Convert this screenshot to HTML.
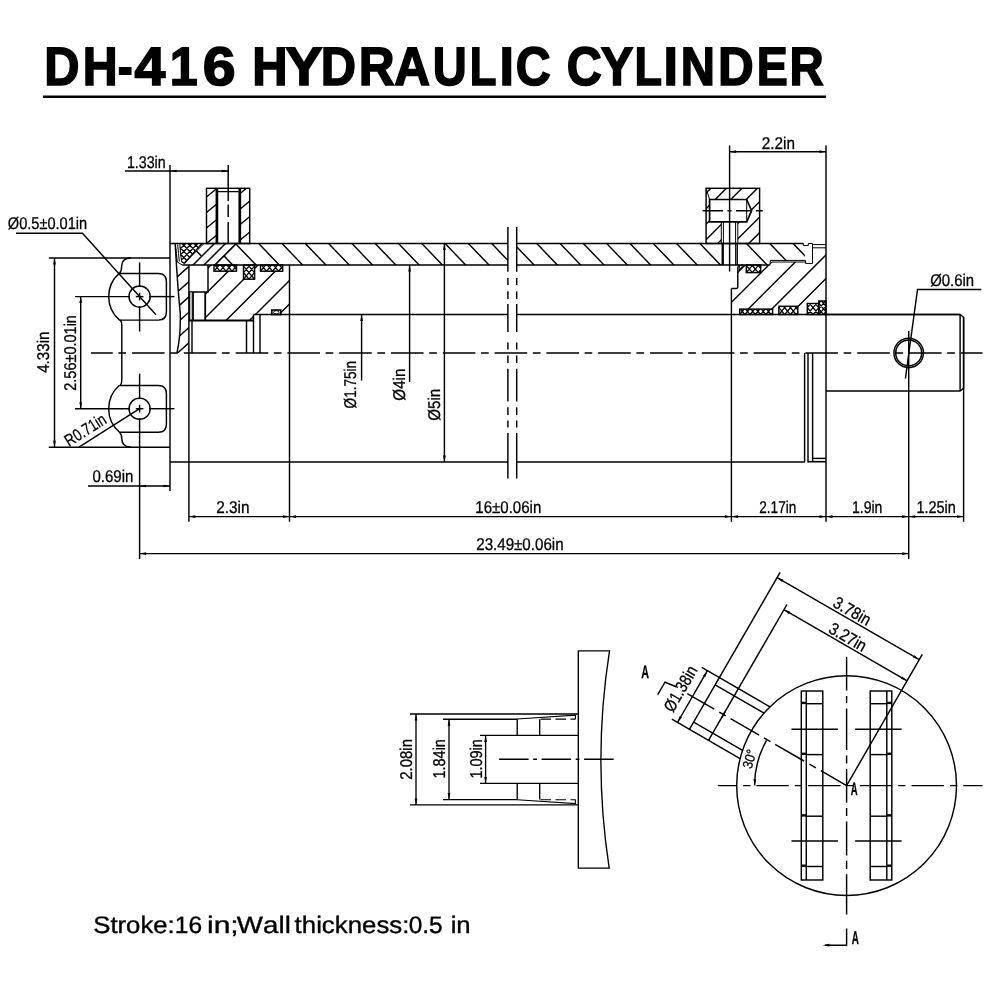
<!DOCTYPE html>
<html lang="en">
<head>
<meta charset="utf-8">
<title>DH-416 HYDRAULIC CYLINDER</title>
<style>
html,body{margin:0;padding:0;background:#fff;}
body{width:1000px;height:1000px;overflow:hidden;font-family:"Liberation Sans", sans-serif;}
svg{display:block;position:absolute;left:0;top:0;will-change:transform;filter:grayscale(1);}
svg text{font-family:"Liberation Sans", sans-serif;fill:#000;stroke:#000;stroke-width:0.3px;stroke-linejoin:round;text-rendering:geometricPrecision;font-kerning:none;}
</style>
</head>
<body>
<svg width="1000" height="1000" viewBox="0 0 1000 1000" stroke="#000" fill="none" stroke-linecap="butt">
<rect x="0" y="0" width="1000" height="1000" fill="#fff" stroke="none"/>
<defs>
<clipPath id="c1"><path d="M236.5,243.5 L507.9,243.5 L507.9,265 L215,265 Z"/></clipPath>
<clipPath id="c2"><path d="M516.7,243.5 L722.3,243.5 L722.3,265 L516.7,265 Z M737.2,243.5 L803.4,243.5 L805.5,260.4 L770.5,260.4 L769.8,265 L746.5,265 Z"/></clipPath>
<clipPath id="c3"><path d="M183.5,265 L203.5,243.5 L236.5,243.5 L215,265 Z"/></clipPath>
<clipPath id="c4"><path d="M179.6,243.5 L202.5,243.5 L183.8,263.6 L182,262 Q180,254 179.6,243.5 Z"/></clipPath>
<clipPath id="c5"><path d="M176.2,265 Q177.8,290 180.2,312 Q181,334 177,352.9 L188.9,352.9 L188.9,265 Z"/></clipPath>
<clipPath id="c6"><path d="M208,265 L214,265 L214,271.2 L236.5,271.2 L236.5,265 L243.5,265 L243.5,279.2 L254.6,279.2 L254.6,265 L260.5,265 L260.5,271.2 L282.7,271.2 L282.7,265 L289.5,265 L289.5,314.5 L280.8,314.5 L280.8,310 L271.8,310 L271.8,314.5 L253.5,314.5 L253.5,320.6 L206,320.6 L206,292 L208,292 Z"/></clipPath>
<clipPath id="c7"><path d="M214,265H236.5V271.2H214Z"/></clipPath>
<clipPath id="c8"><path d="M243.5,265H254.6V279.2H243.5Z"/></clipPath>
<clipPath id="c9"><path d="M260.5,265H282.7V271.2H260.5Z"/></clipPath>
<clipPath id="c10"><path d="M206.5,188.3H216V243.5H206.5Z"/></clipPath>
<clipPath id="c11"><path d="M240.4,188.3H249.7V243.5H240.4Z"/></clipPath>
<clipPath id="c12"><path d="M706.1,188.3 H759.6 V243.5 H737.8 V221.9 H746.7 L751.6,210.7 L746.7,199.5 H709.6 V221.9 H721.3 V243.5 H706.1 Z"/></clipPath>
<clipPath id="c13"><path d="M731.4,288.4 H737.8 V265 H746.3 V272.6 H760.7 V265 H769.8 L770.5,262 H805.5 V263.4 H812.5 V247.8 H826 V301 H818.8 V303.5 H807.3 V314.5 H797.8 V306.3 H778.9 V314.5 H772.6 V309.1 H739.7 V314.5 H731.4 Z"/></clipPath>
<clipPath id="c14"><path d="M746.3,265H760.7V272.6H746.3Z"/></clipPath>
<clipPath id="c15"><path d="M739.7,309.1H772.6V314.5H739.7Z"/></clipPath>
<clipPath id="c16"><path d="M778.9,306.3H797.8V314.5H778.9Z"/></clipPath>
<clipPath id="c17"><path d="M807.3,303.5H818.8V314.5H807.3Z"/></clipPath>
<clipPath id="c18"><path d="M818.8,301H826V314.5H818.8Z"/></clipPath>
</defs>
<text y="85.1" font-size="54.2" font-weight="bold" style="stroke:#000;stroke-width:1.6px;stroke-linejoin:miter"><tspan x="44.33" textLength="35.27" lengthAdjust="spacingAndGlyphs">D</tspan><tspan x="82.67" textLength="34.89" lengthAdjust="spacingAndGlyphs">H</tspan><tspan x="117.70" textLength="14.95" lengthAdjust="spacingAndGlyphs">-</tspan><tspan x="134.46" textLength="30.84" lengthAdjust="spacingAndGlyphs">4</tspan><tspan x="169.63" textLength="27.97" lengthAdjust="spacingAndGlyphs">1</tspan><tspan x="202.83" textLength="32.90" lengthAdjust="spacingAndGlyphs">6</tspan> <tspan x="252.18" textLength="35.32" lengthAdjust="spacingAndGlyphs">H</tspan><tspan x="285.34" textLength="37.36" lengthAdjust="spacingAndGlyphs">Y</tspan><tspan x="320.73" textLength="35.27" lengthAdjust="spacingAndGlyphs">D</tspan><tspan x="358.73" textLength="35.89" lengthAdjust="spacingAndGlyphs">R</tspan><tspan x="394.37" textLength="35.79" lengthAdjust="spacingAndGlyphs">A</tspan><tspan x="432.82" textLength="34.00" lengthAdjust="spacingAndGlyphs">U</tspan><tspan x="469.77" textLength="26.72" lengthAdjust="spacingAndGlyphs">L</tspan><tspan x="499.52" textLength="14.47" lengthAdjust="spacingAndGlyphs">I</tspan><tspan x="515.72" textLength="34.85" lengthAdjust="spacingAndGlyphs">C</tspan> <tspan x="566.81" textLength="35.01" lengthAdjust="spacingAndGlyphs">C</tspan><tspan x="600.82" textLength="32.52" lengthAdjust="spacingAndGlyphs">Y</tspan><tspan x="634.39" textLength="27.50" lengthAdjust="spacingAndGlyphs">L</tspan><tspan x="663.57" textLength="14.47" lengthAdjust="spacingAndGlyphs">I</tspan><tspan x="680.78" textLength="34.21" lengthAdjust="spacingAndGlyphs">N</tspan><tspan x="717.99" textLength="35.74" lengthAdjust="spacingAndGlyphs">D</tspan><tspan x="756.64" textLength="31.03" lengthAdjust="spacingAndGlyphs">E</tspan><tspan x="789.48" textLength="34.24" lengthAdjust="spacingAndGlyphs">R</tspan></text>
<line x1="43" y1="96.75" x2="826" y2="96.75" stroke-width="2.4"/>
<text y="933" font-size="23.8" style="stroke-width:0.35px"><tspan x="93.23" textLength="81.52" lengthAdjust="spacingAndGlyphs">Stroke:</tspan><tspan x="174.73" textLength="27.35" lengthAdjust="spacingAndGlyphs">16</tspan> <tspan x="206.99" textLength="31.71" lengthAdjust="spacingAndGlyphs">in;</tspan><tspan x="236.88" textLength="53.98" lengthAdjust="spacingAndGlyphs">Wall</tspan> <tspan x="294.61" textLength="114.75" lengthAdjust="spacingAndGlyphs">thickness:</tspan><tspan x="408.65" textLength="33.98" lengthAdjust="spacingAndGlyphs">0.5</tspan> <tspan x="450.68" textLength="19.99" lengthAdjust="spacingAndGlyphs">in</tspan></text>
<path d="M91,352.9L112.8,352.9M118.4,352.9L126.1,352.9M132,352.9L164.6,352.9M170.2,352.9L177.9,352.9M183.8,352.9L216.4,352.9M222,352.9L229.7,352.9M235.6,352.9L268.2,352.9M273.8,352.9L281.5,352.9M287.4,352.9L320,352.9M325.6,352.9L333.3,352.9M339.2,352.9L371.8,352.9M377.4,352.9L385.1,352.9M391,352.9L423.6,352.9M429.2,352.9L436.9,352.9M442.8,352.9L475.4,352.9M481,352.9L488.7,352.9M494.6,352.9L527.2,352.9M532.8,352.9L540.5,352.9M546.4,352.9L579,352.9M584.6,352.9L592.3,352.9M598.2,352.9L630.8,352.9M636.4,352.9L644.1,352.9M650,352.9L682.6,352.9M688.2,352.9L695.9,352.9M701.8,352.9L734.4,352.9M740,352.9L747.7,352.9M753.6,352.9L786.2,352.9M791.8,352.9L799.5,352.9M805.4,352.9L838,352.9M843.6,352.9L851.3,352.9M857.2,352.9L889.8,352.9M895.4,352.9L903.1,352.9M909,352.9L941.6,352.9M947.2,352.9L954.9,352.9M960.8,352.9L982.5,352.9" stroke-width="1.45" fill="none"/>
<line x1="170" y1="165" x2="170" y2="491" stroke-width="1.45"/>
<line x1="188.9" y1="265" x2="188.9" y2="521.8" stroke-width="1.45"/>
<line x1="289.5" y1="265" x2="289.5" y2="521.8" stroke-width="1.45"/>
<line x1="729.6" y1="145.5" x2="729.6" y2="271.6" stroke-width="1.45"/>
<line x1="731.4" y1="288.4" x2="731.4" y2="521.8" stroke-width="1.45"/>
<line x1="826" y1="145.5" x2="826" y2="521.8" stroke-width="1.45"/>
<line x1="908.7" y1="331" x2="908.7" y2="559" stroke-width="1.45"/>
<line x1="963.6" y1="317" x2="963.6" y2="521.8" stroke-width="1.45"/>
<line x1="139.6" y1="373.6" x2="139.6" y2="399.1" stroke-width="1.45"/>
<line x1="139.6" y1="418.3" x2="139.6" y2="559" stroke-width="1.45"/>
<line x1="170" y1="243.5" x2="507.9" y2="243.5" stroke-width="1.45"/>
<line x1="182.6" y1="265" x2="507.9" y2="265" stroke-width="1.45"/>
<line x1="516.7" y1="243.5" x2="803.4" y2="243.5" stroke-width="1.45"/>
<line x1="516.7" y1="265" x2="769.8" y2="265" stroke-width="1.45"/>
<line x1="253.5" y1="314.5" x2="507.9" y2="314.5" stroke-width="1.45"/>
<line x1="516.7" y1="314.5" x2="960.1" y2="314.5" stroke-width="1.45"/>
<line x1="170" y1="462" x2="507.9" y2="462" stroke-width="1.45"/>
<line x1="516.7" y1="462" x2="805" y2="462" stroke-width="1.45"/>
<path d="M507.9,226.9V271.7M507.9,278V285M507.9,291.3V299M507.9,303.9V331.9M507.9,342.4V349.6M507.9,355.4V363.1M507.9,368.7V401.6M507.9,407.2V414.9M507.9,420.5V427.5M507.9,433.1V478.6" stroke-width="1.45" fill="none"/>
<path d="M516.7,226.9V271.7M516.7,278V285M516.7,291.3V299M516.7,303.9V331.9M516.7,342.4V349.6M516.7,355.4V363.1M516.7,368.7V401.6M516.7,407.2V414.9M516.7,420.5V427.5M516.7,433.1V478.6" stroke-width="1.45" fill="none"/>
<path d="M373.1,71.23L544.16,249.61M360.96,82.87L532.02,261.25M348.82,94.51L519.88,272.89M336.69,106.15L507.74,284.53M324.55,117.79L495.6,296.17M312.41,129.43L483.47,307.81M300.27,141.07L471.33,319.45M288.14,152.71L459.19,331.08M276,164.35L447.05,342.72M263.86,175.99L434.92,354.36M251.72,187.63L422.78,366M239.58,199.27L410.64,377.64M227.45,210.91L398.5,389.28M215.31,222.55L386.36,400.92M203.17,234.19L374.23,412.56M191.03,245.83L362.09,424.2M178.89,257.47L349.95,435.84" stroke-width="1.45" fill="none" clip-path="url(#c1)"/>
<path d="M678.62,75.53L842.49,246.41M666.48,87.17L830.35,258.05M654.34,98.81L818.21,269.69M642.21,110.45L806.08,281.33M630.07,122.09L793.94,292.97M617.93,133.73L781.8,304.61M605.79,145.37L769.66,316.25M593.66,157.01L757.52,327.89M581.52,168.65L745.39,339.53M569.38,180.29L733.25,351.17M557.24,191.93L721.11,362.81M545.1,203.57L708.97,374.45M532.97,215.21L696.84,386.09M520.83,226.84L684.7,397.73M508.69,238.48L672.56,409.37M496.55,250.12L660.42,421.01M484.41,261.76L648.28,432.65" stroke-width="1.45" fill="none" clip-path="url(#c2)"/>
<path d="M215,265 L236.5,243.5" stroke-width="1.45" fill="none"/>
<path d="M161.59,252.41L208.41,205.59M167.09,257.91L213.91,211.09M172.59,263.41L219.41,216.59M178.09,268.91L224.91,222.09M183.59,274.41L230.41,227.59M189.09,279.91L235.91,233.09M194.59,285.41L241.41,238.59M200.09,290.91L246.91,244.09M205.59,296.41L252.41,249.59M211.09,301.91L257.91,255.09" stroke-width="1.45" fill="none" clip-path="url(#c3)"/>
<path d="M157.54,253.37L189.37,221.54M160.58,256.41L192.41,224.58M163.62,259.45L195.45,227.62M166.66,262.49L198.49,230.66M169.7,265.53L201.53,233.7M172.75,268.57L204.57,236.75M175.79,271.61L207.61,239.79M178.83,274.65L210.65,242.83M181.87,277.7L213.7,245.87M184.91,280.74L216.74,248.91M187.95,283.78L219.78,251.95M190.99,286.82L222.82,254.99M190.51,221.66L222.34,253.49M187.47,224.7L219.3,256.53M184.43,227.74L216.26,259.57M181.39,230.78L213.22,262.61M178.35,233.82L210.18,265.65M175.31,236.86L207.14,268.69M172.27,239.9L204.1,271.73M169.23,242.95L201.05,274.77M166.19,245.99L198.01,277.81M163.15,249.03L194.97,280.85M160.1,252.07L191.93,283.9M157.06,255.11L188.89,286.94" stroke-width="1.3" fill="none" clip-path="url(#c4)"/>
<path d="M202.2,243.5 L184.2,263.4" stroke-width="1.5" fill="none"/>
<path d="M184.2,263.4 L181.8,262.2 Q180.2,254 179.8,243.5" stroke-width="1" fill="none"/>
<path d="M195.4,250 L201.4,256" stroke-width="1.45" fill="none"/>
<path d="M175.2,243.5 Q176.6,254 177.3,262 L180.5,264 L182.8,265" stroke-width="1" fill="none"/>
<path d="M177.6,244.5 Q178.6,254 179.3,261.5" stroke-width="1" fill="none"/>
<path d="M175.2,243.5 Q177.8,290 180.2,312 Q181,334 177,352.9" stroke-width="1.45" fill="none"/>
<path d="M119.36,298.31L177.92,245.59M126.97,306.76L185.52,254.04M134.58,315.21L193.13,262.49M142.19,323.66L200.74,270.94M149.8,332.11L208.35,279.39M157.4,340.56L215.96,287.84M165.01,349.01L223.56,296.29M172.62,357.46L231.17,304.74M180.23,365.91L238.78,313.19" stroke-width="1.45" fill="none" clip-path="url(#c5)"/>
<path d="M208,265 V292 H188.9" stroke-width="1.45" fill="none"/>
<rect x="189.4" y="292.6" width="2.8" height="27.4" fill="#b8b8b8" stroke="none"/>
<line x1="189.4" y1="292" x2="189.4" y2="320.6" stroke-width="1"/>
<line x1="193" y1="292" x2="193" y2="320.6" stroke-width="1.8"/>
<line x1="205.2" y1="292" x2="205.2" y2="320.6" stroke-width="1.8"/>
<line x1="188.9" y1="320.6" x2="253.5" y2="320.6" stroke-width="2"/>
<line x1="192" y1="320.6" x2="192" y2="352.9" stroke-width="1.45"/>
<line x1="246.5" y1="320.6" x2="246.5" y2="352.9" stroke-width="1.45"/>
<line x1="253.5" y1="314.5" x2="253.5" y2="352.9" stroke-width="1.45"/>
<line x1="260" y1="314.5" x2="260" y2="352.9" stroke-width="1.45"/>
<path d="M162.84,289.66L242.66,209.84M174.59,301.41L254.41,221.59M186.34,313.16L266.16,233.34M198.09,324.91L277.91,245.09M209.84,336.66L289.66,256.84M221.59,348.41L301.41,268.59M233.34,360.16L313.16,280.34M245.09,371.91L324.91,292.09" stroke-width="1.45" fill="none" clip-path="url(#c6)"/>
<rect x="214" y="265" width="22.5" height="6.2" stroke-width="1.45" fill="none"/>
<path d="M204.76,267.9L221.49,247.96M208.29,270.85L225.02,250.91M211.81,273.81L228.54,253.87M215.33,276.77L232.06,256.83M218.86,279.72L235.59,259.78M222.38,282.68L239.11,262.74M225.9,285.64L242.64,265.7M229.43,288.6L246.16,268.66M226.37,250.17L243.11,270.11M222.85,253.12L239.58,273.06M219.33,256.08L236.06,276.02M215.8,259.04L232.54,278.98M212.28,261.99L229.01,281.93M208.76,264.95L225.49,284.89M205.23,267.91L221.96,287.85" stroke-width="1.3" fill="none" clip-path="url(#c7)"/>
<rect x="243.5" y="265" width="11.1" height="14.2" stroke-width="1.45" fill="none"/>
<path d="M231.66,273.71L247.62,254.69M234.87,276.41L250.83,257.39M238.09,279.11L254.05,260.09M241.31,281.81L257.27,262.79M244.53,284.51L260.49,265.49M247.74,287.21L263.7,268.19M250.96,289.91L266.92,270.89M250.4,254.76L266.36,273.78M247.19,257.46L263.15,276.48M243.97,260.16L259.93,279.18M240.75,262.86L256.71,281.88M237.53,265.56L253.49,284.58M234.32,268.26L250.28,287.28M231.1,270.96L247.06,289.98" stroke-width="1.3" fill="none" clip-path="url(#c8)"/>
<rect x="260.5" y="265" width="22.2" height="6.2" stroke-width="1.45" fill="none"/>
<path d="M251.26,267.9L267.87,248.11M254.79,270.85L271.39,251.06M258.31,273.81L274.92,254.02M261.83,276.77L278.44,256.98M265.36,279.72L281.96,259.93M268.88,282.68L285.49,262.89M272.4,285.64L289.01,265.85M275.93,288.6L292.54,268.8M272.87,250.17L289.48,269.96M269.35,253.12L285.96,272.92M265.83,256.08L282.44,275.87M262.3,259.04L278.91,278.83M258.78,261.99L275.39,281.79M255.26,264.95L271.86,284.74M251.73,267.91L268.34,287.7" stroke-width="1.3" fill="none" clip-path="url(#c9)"/>
<rect x="271.8" y="310" width="9" height="4.5" stroke-width="1.6" fill="none"/>
<ellipse cx="276.3" cy="312.3" rx="2.8" ry="1.6" stroke-width="1" fill="#fff"/>
<rect x="206.5" y="188.3" width="43.2" height="55.2" stroke-width="1.45" fill="none"/>
<line x1="216.9" y1="189" x2="216.9" y2="243.5" stroke-width="2.7"/>
<line x1="239.8" y1="189" x2="239.8" y2="243.5" stroke-width="2.7"/>
<line x1="218" y1="191.6" x2="238.6" y2="191.6" stroke-width="1.3"/>
<path d="M172.9,209.2L212.19,176.81M180.5,218.43L219.8,186.04M188.11,227.66L227.41,195.27M195.72,236.89L235.01,204.5M203.33,246.12L242.62,213.72M210.94,255.34L250.23,222.95" stroke-width="1.45" fill="none" clip-path="url(#c10)"/>
<path d="M205.01,206.92L243.71,175.02M212.62,216.15L251.32,184.24M220.23,225.37L258.93,193.47M227.84,234.6L266.54,202.7M235.45,243.83L274.14,211.93M243.05,253.06L281.75,221.16" stroke-width="1.45" fill="none" clip-path="url(#c11)"/>
<path d="M228.2,165 V201 M228.2,204.5 V217 M228.2,222 V243" stroke-width="1.45" fill="none"/>
<rect x="706.1" y="188.3" width="53.5" height="55.2" stroke-width="1.45" fill="none"/>
<path d="M709.6,199.5 H746.7 L751.6,210.7 L746.7,221.9 H709.6 Z" stroke-width="1.7" fill="none"/>
<line x1="746.7" y1="199.5" x2="746.7" y2="221.9" stroke-width="1"/>
<path d="M706.1,188.3 L709.6,199.5 M706.1,243.5 L706.1,243.5" stroke-width="1" fill="none"/>
<line x1="721.3" y1="222" x2="721.3" y2="243.5" stroke-width="1"/>
<line x1="723.4" y1="222" x2="723.4" y2="265" stroke-width="1"/>
<line x1="735.6" y1="222" x2="735.6" y2="265" stroke-width="1"/>
<line x1="737.8" y1="222" x2="737.8" y2="243.5" stroke-width="1"/>
<line x1="722.3" y1="243.5" x2="722.3" y2="265" stroke-width="1.45"/>
<line x1="737.2" y1="243.5" x2="737.2" y2="265" stroke-width="1.45"/>
<path d="M670.44,213.26L730.26,153.44M678.19,221.01L738.01,161.19M685.94,228.76L745.76,168.94M693.69,236.51L753.51,176.69M701.44,244.26L761.26,184.44M709.19,252.01L769.01,192.19M716.94,259.76L776.76,199.94M724.69,267.51L784.51,207.69M732.44,275.26L792.26,215.44" stroke-width="1.45" fill="none" clip-path="url(#c12)"/>
<path d="M702.6,210.7 H723 M727.5,210.7 H731.5 M736,210.7 H752 M756,210.7 H762.8" stroke-width="1.45" fill="none"/>
<path d="M803.4,243.5 V245.6 H808.3 V243.5 H812.5 V263.4 H805.5 V260.4" stroke-width="1" fill="none"/>
<line x1="770.5" y1="260.4" x2="805.5" y2="260.4" stroke-width="1"/>
<line x1="772" y1="262" x2="805.5" y2="262" stroke-width="1"/>
<path d="M769.8,265 L770.5,260.4" stroke-width="1" fill="none"/>
<line x1="812.5" y1="244.6" x2="826" y2="244.6" stroke-width="1"/>
<line x1="812.5" y1="247.8" x2="826" y2="247.8" stroke-width="1"/>
<path d="M731.4,288.4 H736.6 Q737.8,288.2 737.8,287 V268 Q738,266 739.3,265" stroke-width="1.45" fill="none"/>
<path d="M686.54,276.36L774.36,188.54M698.34,288.16L786.16,200.34M710.14,299.96L797.96,212.14M721.94,311.76L809.76,223.94M733.74,323.56L821.56,235.74M745.54,335.36L833.36,247.54M757.34,347.16L845.16,259.34M769.14,358.96L856.96,271.14M780.94,370.76L868.76,282.94" stroke-width="1.45" fill="none" clip-path="url(#c13)"/>
<rect x="746.3" y="265" width="14.4" height="7.6" stroke-width="1.45" fill="none"/>
<path d="M737.06,269.3L751.14,252.52M740.59,272.25L754.66,255.48M744.11,275.21L758.18,258.44M747.63,278.17L761.71,261.4M751.16,281.12L765.23,264.35M754.68,284.08L768.75,267.31M754.46,253.7L768.54,270.47M750.94,256.66L765.01,273.43M747.41,259.62L761.49,276.39M743.89,262.57L757.96,279.35M740.37,265.53L754.44,282.3M736.84,268.49L750.92,285.26" stroke-width="1.3" fill="none" clip-path="url(#c14)"/>
<path d="M739.3,265 L743.3,265 L739.3,270 Z" stroke-width="1" fill="none"/>
<rect x="739.7" y="309.1" width="32.9" height="5.4" stroke-width="1.45" fill="none"/>
<path d="M731.38,311.97L752.02,287.38M734.44,314.54L755.08,289.95M737.51,317.11L758.14,292.52M740.57,319.68L761.21,295.09M743.64,322.25L764.27,297.66M746.7,324.82L767.34,300.23M749.77,327.4L770.4,302.8M752.83,329.97L773.46,305.38M755.89,332.54L776.53,307.95M758.96,335.11L779.59,310.52M759.36,288.15L780,312.74M756.3,290.72L776.93,315.31M753.23,293.29L773.87,317.88M750.17,295.86L770.81,320.46M747.11,298.44L767.74,323.03M744.04,301.01L764.68,325.6M740.98,303.58L761.61,328.17M737.91,306.15L758.55,330.74M734.85,308.72L755.48,333.31M731.79,311.29L752.42,335.88" stroke-width="1.3" fill="none" clip-path="url(#c15)"/>
<rect x="778.9" y="306.3" width="18.9" height="8.2" stroke-width="1.45" fill="none"/>
<path d="M769.97,311.45L786.2,292.11M773.34,314.28L789.57,294.94M776.71,317.11L792.94,297.77M780.08,319.94L796.31,300.6M783.45,322.77L799.68,303.43M786.82,325.6L803.05,306.26M790.19,328.42L806.42,309.08M789.52,292.94L805.75,312.28M786.15,295.76L802.38,315.1M782.78,298.59L799.01,317.93M779.41,301.42L795.64,320.76M776.04,304.25L792.27,323.59M772.67,307.08L788.9,326.42M769.3,309.9L785.53,329.25" stroke-width="1.3" fill="none" clip-path="url(#c16)"/>
<rect x="807.3" y="303.5" width="11.5" height="11" stroke-width="1.45" fill="none"/>
<path d="M798.37,311.45L812.92,294.11M801.74,314.28L816.29,296.94M805.11,317.11L819.66,299.77M808.48,319.94L823.03,302.6M811.85,322.77L826.4,305.43M815.22,325.6L829.77,308.26M813.17,294.12L827.73,311.46M809.8,296.95L824.35,314.29M806.43,299.78L820.98,317.12M803.06,302.61L817.61,319.95M799.69,305.43L814.24,322.77M796.32,308.26L810.87,325.6" stroke-width="1.3" fill="none" clip-path="url(#c17)"/>
<rect x="818.8" y="301" width="7.2" height="13.5" stroke-width="1.45" fill="none"/>
<path d="M808.34,310.17L822.34,293.48M811.09,312.48L825.1,295.79M813.85,314.8L827.86,298.11M816.61,317.11L830.61,300.42M819.37,319.43L833.37,302.74M822.12,321.74L836.13,305.05M823.75,292.4L837.75,309.09M820.99,294.71L835,311.4M818.23,297.02L832.24,313.71M815.48,299.34L829.48,316.03M812.72,301.65L826.72,318.34M809.96,303.97L823.97,320.66M807.2,306.28L821.21,322.97" stroke-width="1.3" fill="none" clip-path="url(#c18)"/>
<path d="M826,314.5 H960.1 L963.6,317.3 V388.2 L960.1,391 H826" stroke-width="1.45" fill="none"/>
<line x1="960.1" y1="314.5" x2="960.1" y2="391" stroke-width="1.45"/>
<circle cx="908.7" cy="352.9" r="14.75" stroke-width="1.5" fill="none"/>
<circle cx="908.7" cy="352.9" r="13" stroke-width="1.5" fill="none"/>
<path d="M981.3,289.4 H917.5 L905.4,378.5" stroke-width="1.45" fill="none"/>
<text x="930.18" y="286" font-size="17" textLength="43.99" lengthAdjust="spacingAndGlyphs">Ø0.6in</text>
<line x1="804.6" y1="352.9" x2="804.6" y2="462" stroke-width="1.45"/>
<line x1="808" y1="352.9" x2="808" y2="462.6" stroke-width="1.45"/>
<line x1="812.6" y1="352.9" x2="812.6" y2="462" stroke-width="1.45"/>
<line x1="812.6" y1="458.4" x2="826" y2="458.4" stroke-width="1.45"/>
<line x1="808" y1="461.7" x2="826" y2="461.7" stroke-width="1.6"/>
<line x1="48.8" y1="258" x2="170" y2="258" stroke-width="1.45"/>
<line x1="48.8" y1="447.2" x2="170" y2="447.2" stroke-width="1.45"/>
<path d="M119.19,273.4 H158.4 Q166.4,273.4 166.4,281.4 V312.1 Q166.4,320.1 158.4,320.1 H119.54 A30.9,30.9 0 0 1 119.19,273.4" stroke-width="1.45" fill="none"/>
<circle cx="139.6" cy="296.6" r="10.6" stroke-width="1.45" fill="none"/>
<line x1="75" y1="296.6" x2="130" y2="296.6" stroke-width="1.45"/>
<line x1="149.2" y1="296.6" x2="174.4" y2="296.6" stroke-width="1.45"/>
<line x1="135.8" y1="296.6" x2="143.4" y2="296.6" stroke-width="1.45"/>
<line x1="139.6" y1="292.8" x2="139.6" y2="300.4" stroke-width="1.45"/>
<path d="M119.19,385.5 H158.4 Q166.4,385.5 166.4,393.5 V424.2 Q166.4,432.2 158.4,432.2 H119.54 A30.9,30.9 0 0 1 119.19,385.5" stroke-width="1.45" fill="none"/>
<circle cx="139.6" cy="408.7" r="10.6" stroke-width="1.45" fill="none"/>
<line x1="75" y1="408.7" x2="130" y2="408.7" stroke-width="1.45"/>
<line x1="149.2" y1="408.7" x2="174.4" y2="408.7" stroke-width="1.45"/>
<line x1="135.8" y1="408.7" x2="143.4" y2="408.7" stroke-width="1.45"/>
<line x1="139.6" y1="404.9" x2="139.6" y2="412.5" stroke-width="1.45"/>
<line x1="139.6" y1="262.4" x2="139.6" y2="287" stroke-width="1.45"/>
<line x1="139.6" y1="306.2" x2="139.6" y2="331.5" stroke-width="1.45"/>
<path d="M131,258 Q121.6,258 121.6,266.5 Q121.8,271 119.4,273.4" stroke-width="1.45" fill="none"/>
<path d="M120.2,320 Q121.8,321.6 121.8,326 V379.4 Q121.8,383.6 120.4,385.2" stroke-width="1.45" fill="none"/>
<path d="M119.6,432.2 Q121.8,434.4 121.8,438.6 Q121.8,447.2 131,447.2" stroke-width="1.45" fill="none"/>
<path d="M16,233.3 H82.5 L156,314.8" stroke-width="1.45" fill="none"/>
<text x="7.79" y="228.6" font-size="17" textLength="79.45" lengthAdjust="spacingAndGlyphs">Ø0.5±0.01in</text>
<line x1="139.6" y1="408.7" x2="79" y2="447.2" stroke-width="1.45"/>
<text x="68.91" y="446.4" font-size="17" textLength="45.75" lengthAdjust="spacingAndGlyphs" transform="rotate(-32.2 70 446.4)">R0.71in</text>
<line x1="125" y1="171" x2="228.2" y2="171" stroke-width="1.45"/>
<polygon points="170,171 176.5,169.65 176.5,172.35" fill="#000" stroke="none"/>
<polygon points="228.2,171 221.7,172.35 221.7,169.65" fill="#000" stroke="none"/>
<text x="126.91" y="168" font-size="17" textLength="38.81" lengthAdjust="spacingAndGlyphs">1.33in</text>
<line x1="729.6" y1="151.7" x2="826" y2="151.7" stroke-width="1.45"/>
<polygon points="729.6,151.7 736.1,150.35 736.1,153.05" fill="#000" stroke="none"/>
<polygon points="826,151.7 819.5,153.05 819.5,150.35" fill="#000" stroke="none"/>
<text x="761.73" y="148.5" font-size="17" textLength="33.27" lengthAdjust="spacingAndGlyphs">2.2in</text>
<line x1="88" y1="486" x2="170" y2="486" stroke-width="1.45"/>
<polygon points="139.6,486 146.1,484.65 146.1,487.35" fill="#000" stroke="none"/>
<polygon points="170,486 163.5,487.35 163.5,484.65" fill="#000" stroke="none"/>
<text x="92.41" y="482.4" font-size="17" textLength="40.96" lengthAdjust="spacingAndGlyphs">0.69in</text>
<line x1="188.9" y1="516.6" x2="963.6" y2="516.6" stroke-width="1.45"/>
<polygon points="188.9,516.6 195.4,515.25 195.4,517.95" fill="#000" stroke="none"/>
<polygon points="289.5,516.6 283,517.95 283,515.25" fill="#000" stroke="none"/>
<polygon points="289.5,516.6 296,515.25 296,517.95" fill="#000" stroke="none"/>
<polygon points="731.4,516.6 724.9,517.95 724.9,515.25" fill="#000" stroke="none"/>
<polygon points="731.4,516.6 737.9,515.25 737.9,517.95" fill="#000" stroke="none"/>
<polygon points="826,516.6 819.5,517.95 819.5,515.25" fill="#000" stroke="none"/>
<polygon points="826,516.6 832.5,515.25 832.5,517.95" fill="#000" stroke="none"/>
<polygon points="908.7,516.6 902.2,517.95 902.2,515.25" fill="#000" stroke="none"/>
<polygon points="908.7,516.6 915.2,515.25 915.2,517.95" fill="#000" stroke="none"/>
<polygon points="963.6,516.6 957.1,517.95 957.1,515.25" fill="#000" stroke="none"/>
<text x="216.23" y="513" font-size="17" textLength="33.27" lengthAdjust="spacingAndGlyphs">2.3in</text>
<text x="475.36" y="512.7" font-size="17" textLength="65.92" lengthAdjust="spacingAndGlyphs">16±0.06in</text>
<text x="759.32" y="513" font-size="17" textLength="36.96" lengthAdjust="spacingAndGlyphs">2.17in</text>
<text x="851.93" y="513" font-size="17" textLength="30.48" lengthAdjust="spacingAndGlyphs">1.9in</text>
<text x="916.39" y="513" font-size="17" textLength="39.55" lengthAdjust="spacingAndGlyphs">1.25in</text>
<line x1="139.6" y1="553.6" x2="908.7" y2="553.6" stroke-width="1.45"/>
<polygon points="139.6,553.6 146.1,552.25 146.1,554.95" fill="#000" stroke="none"/>
<polygon points="908.7,553.6 902.2,554.95 902.2,552.25" fill="#000" stroke="none"/>
<text x="476.24" y="549.9" font-size="17" textLength="87.34" lengthAdjust="spacingAndGlyphs">23.49±0.06in</text>
<line x1="54.5" y1="258" x2="54.5" y2="447.2" stroke-width="1.45"/>
<polygon points="54.5,258 55.85,264.5 53.15,264.5" fill="#000" stroke="none"/>
<polygon points="54.5,447.2 53.15,440.7 55.85,440.7" fill="#000" stroke="none"/>
<text x="48.25" y="372.5" font-size="17" textLength="41.33" lengthAdjust="spacingAndGlyphs" transform="rotate(-90 48.6 372.5)">4.33in</text>
<line x1="80.7" y1="296.6" x2="80.7" y2="408.7" stroke-width="1.45"/>
<polygon points="80.7,296.6 82.05,303.1 79.35,303.1" fill="#000" stroke="none"/>
<polygon points="80.7,408.7 79.35,402.2 82.05,402.2" fill="#000" stroke="none"/>
<text x="75.27" y="390" font-size="17" textLength="75.67" lengthAdjust="spacingAndGlyphs" transform="rotate(-90 76 390)">2.56±0.01in</text>
<line x1="361.6" y1="314.5" x2="361.6" y2="380.5" stroke-width="1.45"/>
<polygon points="361.6,314.5 362.95,321 360.25,321" fill="#000" stroke="none"/>
<text x="356.03" y="407.9" font-size="17" textLength="47.45" lengthAdjust="spacingAndGlyphs" transform="rotate(-90 356.5 407.9)">Ø1.75in</text>
<line x1="409.6" y1="265" x2="409.6" y2="382" stroke-width="1.45"/>
<polygon points="409.6,265 410.95,271.5 408.25,271.5" fill="#000" stroke="none"/>
<text x="404.47" y="400.1" font-size="17" textLength="32.01" lengthAdjust="spacingAndGlyphs" transform="rotate(-90 405 400.1)">Ø4in</text>
<line x1="444.4" y1="243.5" x2="444.4" y2="462" stroke-width="1.45"/>
<polygon points="444.4,243.5 445.75,250 443.05,250" fill="#000" stroke="none"/>
<polygon points="444.4,462 443.05,455.5 445.75,455.5" fill="#000" stroke="none"/>
<text x="439.97" y="420.3" font-size="17" textLength="32.01" lengthAdjust="spacingAndGlyphs" transform="rotate(-90 440.5 420.3)">Ø5in</text>
<path d="M578.3,650.8 H609.5 A706,706 0 0 0 609.2,868.1 H578.3 Z" stroke-width="1.35" fill="none"/>
<path d="M499.1,759.2L528.6,759.2M533.2,759.2L537,759.2M541.6,759.2L571.1,759.2M575.7,759.2L579.5,759.2M584.1,759.2L613.6,759.2" stroke-width="1.35" fill="none"/>
<line x1="410" y1="714" x2="578.3" y2="714" stroke-width="1.35"/>
<line x1="410" y1="804.9" x2="578.3" y2="804.9" stroke-width="1.35"/>
<line x1="443" y1="719.2" x2="517.4" y2="719.2" stroke-width="1.35"/>
<line x1="443" y1="799.6" x2="517.4" y2="799.6" stroke-width="1.35"/>
<line x1="480" y1="735.4" x2="578.3" y2="735.4" stroke-width="1.35"/>
<line x1="480" y1="783.4" x2="578.3" y2="783.4" stroke-width="1.35"/>
<line x1="416" y1="714" x2="416" y2="804.9" stroke-width="1.35"/>
<polygon points="416,714 417.35,720.5 414.65,720.5" fill="#000" stroke="none"/>
<polygon points="416,804.9 414.65,798.4 417.35,798.4" fill="#000" stroke="none"/>
<line x1="449" y1="719.2" x2="449" y2="799.6" stroke-width="1.35"/>
<polygon points="449,719.2 450.35,725.7 447.65,725.7" fill="#000" stroke="none"/>
<polygon points="449,799.6 447.65,793.1 450.35,793.1" fill="#000" stroke="none"/>
<line x1="485.6" y1="735.4" x2="485.6" y2="783.4" stroke-width="1.35"/>
<polygon points="485.6,735.4 486.95,741.9 484.25,741.9" fill="#000" stroke="none"/>
<polygon points="485.6,783.4 484.25,776.9 486.95,776.9" fill="#000" stroke="none"/>
<line x1="517.2" y1="719.2" x2="517.2" y2="735.4" stroke-width="1.35"/>
<line x1="517.2" y1="783.4" x2="517.2" y2="799.6" stroke-width="1.35"/>
<line x1="539.7" y1="719.2" x2="539.7" y2="735.4" stroke-width="1.35"/>
<line x1="539.7" y1="783.4" x2="539.7" y2="799.6" stroke-width="1.35"/>
<path d="M517.2,719 L575.4,715.2 V719.2 M517.2,799.8 L575.4,803.6 V799.6" stroke-width="1.1" fill="none"/>
<path d="M540.5,719.1 H575.4 M540.5,799.7 H575.4" stroke-width="1.1" fill="none" stroke-dasharray="10.5 4.5"/>
<text x="410.75" y="779" font-size="17" textLength="40.72" lengthAdjust="spacingAndGlyphs" transform="rotate(-90 411.5 779)">2.08in</text>
<text x="444.29" y="777.5" font-size="17" textLength="39.55" lengthAdjust="spacingAndGlyphs" transform="rotate(-90 445.4 777.5)">1.84in</text>
<text x="480.89" y="777.5" font-size="17" textLength="39.55" lengthAdjust="spacingAndGlyphs" transform="rotate(-90 482 777.5)">1.09in</text>
<circle cx="846.6" cy="785.6" r="109.9" stroke-width="1.45" fill="none"/>
<path d="M717.8,785.6L737.1,785.6M743.1,785.6L750.4,785.6M756.4,785.6L788.8,785.6M794.8,785.6L802.1,785.6M808.1,785.6L840.5,785.6M846.5,785.6L853.8,785.6M859.8,785.6L892.2,785.6M898.2,785.6L905.5,785.6M911.5,785.6L943.9,785.6M949.9,785.6L957.2,785.6M963.2,785.6L982.5,785.6" stroke-width="1.45" fill="none"/>
<path d="M846.6,657V690.5M846.6,696V703M846.6,708.5V750M846.6,755.4V763.5M846.6,769V802.7M846.6,808V816M846.6,821.6V855.4M846.6,860.8V869M846.6,874.3V914.6" stroke-width="1.45" fill="none"/>
<rect x="801.3" y="691" width="21.5" height="189" stroke-width="1.45" fill="none"/>
<line x1="806.3" y1="691" x2="806.3" y2="880" stroke-width="1.45"/>
<line x1="806.3" y1="703.7" x2="822.8" y2="703.7" stroke-width="1.45"/>
<line x1="801.3" y1="702.9" x2="806.3" y2="702.9" stroke-width="2.4"/>
<line x1="806.3" y1="754.6" x2="822.8" y2="754.6" stroke-width="1.45"/>
<line x1="801.3" y1="753.8" x2="806.3" y2="753.8" stroke-width="2.4"/>
<line x1="806.3" y1="816.2" x2="822.8" y2="816.2" stroke-width="1.45"/>
<line x1="801.3" y1="815.4" x2="806.3" y2="815.4" stroke-width="2.4"/>
<line x1="806.3" y1="866.5" x2="822.8" y2="866.5" stroke-width="1.45"/>
<line x1="801.3" y1="865.7" x2="806.3" y2="865.7" stroke-width="2.4"/>
<rect x="870.2" y="691" width="21.6" height="189" stroke-width="1.45" fill="none"/>
<line x1="886.8" y1="691" x2="886.8" y2="880" stroke-width="1.45"/>
<line x1="870.2" y1="703.7" x2="886.8" y2="703.7" stroke-width="1.45"/>
<line x1="886.8" y1="702.9" x2="891.8" y2="702.9" stroke-width="2.4"/>
<line x1="870.2" y1="754.6" x2="886.8" y2="754.6" stroke-width="1.45"/>
<line x1="886.8" y1="753.8" x2="891.8" y2="753.8" stroke-width="2.4"/>
<line x1="870.2" y1="816.2" x2="886.8" y2="816.2" stroke-width="1.45"/>
<line x1="886.8" y1="815.4" x2="891.8" y2="815.4" stroke-width="2.4"/>
<line x1="870.2" y1="866.5" x2="886.8" y2="866.5" stroke-width="1.45"/>
<line x1="886.8" y1="865.7" x2="891.8" y2="865.7" stroke-width="2.4"/>
<line x1="791.5" y1="729.2" x2="838" y2="729.2" stroke-width="1.45"/>
<line x1="855.1" y1="729.2" x2="901.6" y2="729.2" stroke-width="1.45"/>
<line x1="791.5" y1="841" x2="838" y2="841" stroke-width="1.45"/>
<line x1="855.1" y1="841" x2="901.6" y2="841" stroke-width="1.45"/>
<line x1="769.96" y1="706.83" x2="701.77" y2="667.46" stroke-width="1.45"/>
<line x1="764.01" y1="713.09" x2="715.15" y2="684.88" stroke-width="1.45"/>
<line x1="740.06" y1="758.62" x2="671.87" y2="719.24" stroke-width="1.45"/>
<line x1="742.51" y1="750.33" x2="693.65" y2="722.12" stroke-width="1.45"/>
<line x1="689.45" y1="729.39" x2="780.1" y2="572.38" stroke-width="1.45"/>
<line x1="708.5" y1="740.39" x2="786.95" y2="604.51" stroke-width="1.45"/>
<line x1="846.6" y1="785.6" x2="922.3" y2="654.48" stroke-width="1.45"/>
<line x1="919.3" y1="659.68" x2="777.1" y2="577.58" stroke-width="1.45"/>
<polygon points="919.3,659.68 913,657.6 914.35,655.26" fill="#000" stroke="none"/>
<polygon points="777.1,577.58 783.4,579.66 782.05,582" fill="#000" stroke="none"/>
<line x1="907.1" y1="680.81" x2="783.95" y2="609.71" stroke-width="1.45"/>
<polygon points="907.1,680.81 900.8,678.73 902.15,676.39" fill="#000" stroke="none"/>
<polygon points="783.95,609.71 790.26,611.79 788.91,614.13" fill="#000" stroke="none"/>
<line x1="677.5" y1="722.49" x2="707.4" y2="670.71" stroke-width="1.45"/>
<polygon points="707.4,670.71 705.32,677.01 702.98,675.66" fill="#000" stroke="none"/>
<polygon points="677.5,722.49 679.58,716.19 681.92,717.54" fill="#000" stroke="none"/>
<line x1="687.25" y1="693.6" x2="714.27" y2="709.2" stroke-width="1.45"/>
<line x1="719.29" y1="712.1" x2="725.79" y2="715.85" stroke-width="1.45"/>
<line x1="730.55" y1="718.6" x2="759.13" y2="735.1" stroke-width="1.45"/>
<line x1="763.98" y1="737.9" x2="770.39" y2="741.6" stroke-width="1.45"/>
<line x1="775.15" y1="744.35" x2="803.99" y2="761" stroke-width="1.45"/>
<line x1="809.36" y1="764.1" x2="815.86" y2="767.85" stroke-width="1.45"/>
<line x1="820.79" y1="770.7" x2="846.6" y2="785.6" stroke-width="1.45"/>
<line x1="721.45" y1="717.96" x2="725.45" y2="711.04" stroke-width="1.4"/>
<path d="M657.75,694.7 L664.95,682.23 L676.19,686.75" stroke-width="1.45" fill="none"/>
<text x="672.84" y="712.7" font-size="17" textLength="49.92" lengthAdjust="spacingAndGlyphs" transform="rotate(-60 673.34 712.7)">Ø1.38in</text>
<text x="831.66" y="606.29" font-size="17" textLength="40.53" lengthAdjust="spacingAndGlyphs" transform="rotate(30 832.23 606.29)">3.78in</text>
<text x="827.33" y="632.2" font-size="17" textLength="40.53" lengthAdjust="spacingAndGlyphs" transform="rotate(30 827.9 632.2)">3.27in</text>
<path d="M754.6,785.6 A92,92 0 0 1 766.53,740.3" stroke-width="1.45" fill="none"/>
<polygon points="754.6,785.6 753.48,779.06 756.18,779.15" fill="#000" stroke="none"/>
<text x="751.5" y="769.5" font-size="14" textLength="19" lengthAdjust="spacingAndGlyphs" transform="rotate(-74 751.5 769.5)">30°</text>
<text x="641.33" y="677.9" font-size="17.8" textLength="7.75" lengthAdjust="spacingAndGlyphs" font-weight="bold">A</text>
<text x="850.76" y="795.3" font-size="17.8" textLength="6.89" lengthAdjust="spacingAndGlyphs" font-weight="bold">A</text>
<text x="851.76" y="944" font-size="18.6" textLength="7.1" lengthAdjust="spacingAndGlyphs" font-weight="bold">A</text>
<path d="M846.6,928.5 V945.2 H825" stroke-width="1.45" fill="none"/>
<polygon points="822.5,945.2 829.5,943.8 829.5,946.6" fill="#000" stroke="none"/>
</svg>
</body>
</html>
